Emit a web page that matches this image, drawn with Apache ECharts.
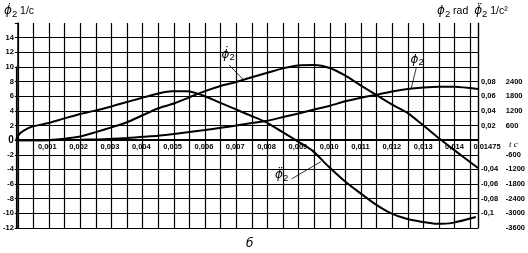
<!DOCTYPE html>
<html>
<head>
<meta charset="utf-8">
<script src="https://cdn.jsdelivr.net/npm/echarts@6/dist/echarts.min.js"></script>
<style>
  html, body { margin: 0; padding: 0; background: #fff; }
  #chart { width: 528px; height: 253px; }
</style>
</head>
<body>
<div id="chart"></div>
<script>
// time, s
const t = [0, 0.0001, 0.00025, 0.0005, 0.001, 0.0015, 0.002, 0.0025, 0.003, 0.0035, 0.004, 0.0045,
  0.005, 0.0055, 0.006, 0.0065, 0.007, 0.0075, 0.008, 0.0085, 0.009, 0.0095, 0.01, 0.0105,
  0.011, 0.0115, 0.012, 0.0125, 0.013, 0.0135, 0.014, 0.01475];
// angular velocity, 1/c
const omega = [0, 0, 0, 0, 0.03, 0.2, 0.5, 1.1, 1.75, 2.45, 3.4, 4.35,
  5.0, 5.85, 6.7, 7.4, 7.95, 8.6, 9.2, 9.8, 10.2, 10.25, 9.85, 8.8,
  7.45, 6.15, 4.85, 3.7, 2.0, 0.25, -1.4, -3.8];
// angle, rad
const angle = [0, 0, 0, 0, 0, 0.0002, 0.0005, 0.001, 0.0018, 0.003, 0.0045, 0.006,
  0.0085, 0.011, 0.0138, 0.0168, 0.02, 0.0235, 0.0265, 0.0315, 0.0365, 0.0418, 0.047, 0.053,
  0.058, 0.062, 0.0665, 0.07, 0.072, 0.073, 0.0728, 0.07];
// angular acceleration, 1/c^2
const accel = [0, 240, 390, 550, 690, 870, 1050, 1200, 1360, 1540, 1720, 1890,
  2000, 2000, 1830, 1560, 1290, 1020, 750, 370, -20, -420, -1050, -1630,
  -2130, -2600, -2980, -3210, -3340, -3430, -3390, -3150];

const timeTicks = [0.001, 0.002, 0.003, 0.004, 0.005, 0.006, 0.007, 0.008, 0.009, 0.01, 0.011, 0.012, 0.013, 0.014, 0.01475];
const timeTickText = ['0,001', '0,002', '0,003', '0,004', '0,005', '0,006', '0,007', '0,008', '0,009', '0,010', '0,011', '0,012', '0,013', '0,014', '{e|0,01475}'];
const radTicks = [-0.1, -0.08, -0.06, -0.04, 0.02, 0.04, 0.06, 0.08];
const radTickText = ['-0,1', '-0,08', '-0,06', '-0,04', '0,02', '0,04', '0,06', '0,08'];
const accTicks = [-3600, -3000, -2400, -1800, -1200, -600, 600, 1200, 1800, 2400];

function pick(ticks, text, v, eps) {
  const i = ticks.findIndex(a => Math.abs(a - v) < eps);
  return i < 0 ? '' : text[i];
}

const tickFont = { fontSize: 7.5, fontWeight: 'bold', fontFamily: 'Liberation Sans', color: '#000' };
const phiRich = {
  p: { fontSize: 12, fontStyle: 'italic', fontWeight: 'normal', fontFamily: 'DejaVu Sans', color: '#000', lineHeight: 16 },
  s: { fontSize: 9.5, fontWeight: 'normal', fontFamily: 'Liberation Sans', color: '#000', lineHeight: 10, verticalAlign: 'bottom' },
  u: { fontSize: 10.5, fontWeight: 'normal', fontFamily: 'Liberation Sans', color: '#000', lineHeight: 16 }
};
const pairs = ys => t.map((x, i) => [x, ys[i]]);
const leader = { color: '#000', width: 0.8, type: 'solid' };
const noDot = { color: 'rgba(0,0,0,0)' };

const chart = echarts.init(document.getElementById('chart'));
chart.setOption({
  animation: false,
  backgroundColor: '#fff',
  title: [
    { text: '{p|\u03D5\u0307}{s|2}{u| 1/c}', left: 4, top: 3, padding: 0, textStyle: { fontWeight: 'normal', rich: phiRich } },
    { text: '{p|\u03D5}{s|2}{u| rad  }{p|\u03D5\u0308}{s|2}{u| 1/c\u00B2}', left: 437, top: 3, padding: 0, textStyle: { fontWeight: 'normal', rich: phiRich } },
    { text: '\u0431', left: 246, top: 238, padding: 0, textStyle: { fontSize: 12, fontStyle: 'italic', fontWeight: 'normal', fontFamily: 'DejaVu Sans', color: '#000' } }
  ],
  grid: [
    { left: 16, right: 50, top: 23, bottom: 25 },
    { left: 16, right: 50, top: 66.93, bottom: 25 },
    // band above the zero line, only used to place the time labels under it
    { left: 16, right: 50, top: 23, bottom: 112.88 }
  ],
  xAxis: [
    {
      type: 'value', gridIndex: 0, min: 0, max: 0.01475, interval: 0.0005,
      name: 't c', nameLocation: 'end', nameGap: 31,
      nameTextStyle: { fontSize: 9, fontStyle: 'italic', fontFamily: 'Liberation Serif', color: '#000', align: 'left', verticalAlign: 'top' },
      axisLine: { onZero: true, onZeroAxisIndex: 0, lineStyle: { color: '#000', width: 2 } },
      axisTick: { show: false },
      axisLabel: { show: false },
      splitLine: { show: true, lineStyle: { color: '#000', width: 1.2 } }
    },
    { type: 'value', gridIndex: 1, min: 0, max: 0.01475, show: false },
    {
      type: 'value', gridIndex: 2, min: 0, max: 0.01475, interval: 0.0005,
      axisLine: { show: false }, axisTick: { show: false }, splitLine: { show: false },
      axisLabel: Object.assign({}, tickFont, {
        margin: 3, showMaxLabel: true, showMinLabel: true,
        formatter: v => pick(timeTicks, timeTickText, v, 1e-7),
        rich: { e: Object.assign({}, tickFont, { padding: [0, 0, 0, 18] }) }
      })
    }
  ],
  yAxis: [
    {
      type: 'value', gridIndex: 0, min: -12, max: 16, interval: 2,
      axisLine: { show: true, lineStyle: { color: '#000', width: 1.5 } },
      axisTick: { show: true, length: 3, lineStyle: { color: '#000' } },
      axisLabel: Object.assign({}, tickFont, {
        margin: 4,
        formatter: v => v === 16 ? '' : (v === 0 ? '{z|0}' : String(v)),
        rich: { z: { fontSize: 10, fontFamily: 'Liberation Sans', color: '#000' } }
      }),
      splitLine: { show: true, showMaxLine: false, lineStyle: { color: '#000', width: 1.2 } }
    },
    {
      type: 'value', gridIndex: 0, position: 'right', min: -0.12, max: 0.16, interval: 0.02,
      axisLine: { show: true, lineStyle: { color: '#000', width: 1.2 } },
      axisTick: { show: false },
      axisLabel: Object.assign({}, tickFont, { margin: 3, formatter: v => pick(radTicks, radTickText, v, 1e-6) }),
      splitLine: { show: false }
    },
    {
      type: 'value', gridIndex: 1, position: 'right', offset: 23, min: -3600, max: 3000, interval: 600,
      axisLine: { show: true, lineStyle: { color: '#000', width: 1.2 } },
      axisTick: { show: false },
      axisLabel: Object.assign({}, tickFont, { margin: 7, formatter: v => pick(accTicks, accTicks.map(String), v, 1e-3) }),
      splitLine: { show: false }
    },
    { type: 'value', gridIndex: 2, min: 0, max: 1, show: false }
  ],
  series: [
    {
      name: 'omega', type: 'line', xAxisIndex: 0, yAxisIndex: 0, data: pairs(omega),
      showSymbol: false, smooth: 0.25, lineStyle: { color: '#000', width: 2 }, z: 5,
      markLine: { silent: true, symbol: ['none', 'none'], lineStyle: leader, label: { show: false },
        data: [[{ coord: [0.00677, 10.26] }, { coord: [0.00722, 8.3] }]] },
      markPoint: { symbol: 'circle', symbolSize: 1, itemStyle: noDot,
        label: { show: true, position: 'inside', formatter: '{p|\u03D5\u0307}{s|2}', rich: phiRich },
        data: [{ coord: [0.00674, 11.7] }] }
    },
    {
      name: 'angle', type: 'line', xAxisIndex: 0, yAxisIndex: 1, data: pairs(angle),
      showSymbol: false, smooth: 0.25, lineStyle: { color: '#000', width: 2 }, z: 5,
      markLine: { silent: true, symbol: ['none', 'none'], lineStyle: leader, label: { show: false },
        data: [[{ coord: [0.01277, 0.0985] }, { coord: [0.01261, 0.071] }]] },
      markPoint: { symbol: 'circle', symbolSize: 1, itemStyle: noDot,
        label: { show: true, position: 'inside', formatter: '{p|\u03D5}{s|2}', rich: phiRich },
        data: [{ coord: [0.0128, 0.11] }] }
    },
    {
      name: 'accel', type: 'line', xAxisIndex: 1, yAxisIndex: 2, data: pairs(accel),
      showSymbol: false, smooth: 0.25, lineStyle: { color: '#000', width: 2 }, z: 5,
      markLine: { silent: true, symbol: ['none', 'none'], lineStyle: leader, label: { show: false },
        data: [[{ coord: [0.00884, -1590] }, { coord: [0.00978, -880] }]] },
      markPoint: { symbol: 'circle', symbolSize: 1, itemStyle: noDot,
        label: { show: true, position: 'inside', formatter: '{p|\u03D5\u0308}{s|2}', rich: phiRich },
        data: [{ coord: [0.00852, -1430] }] }
    }
  ]
});
</script>
</body>
</html>
